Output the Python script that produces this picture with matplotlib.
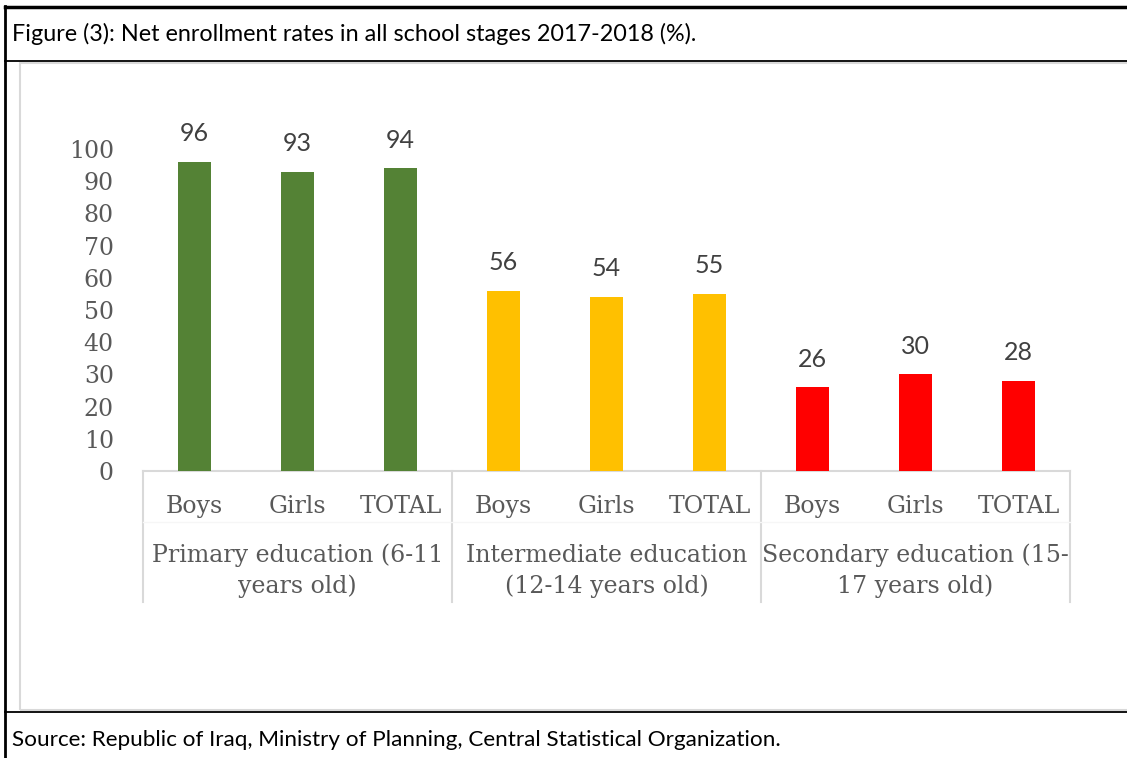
import matplotlib
matplotlib.use("Agg")
import matplotlib.pyplot as plt
from matplotlib.lines import Line2D
from matplotlib.patches import Rectangle

# data
categories = ["Boys", "Girls", "TOTAL"] * 3
groups = ["Primary education (6-11\nyears old)",
          "Intermediate education\n(12-14 years old)",
          "Secondary education (15-\n17 years old)"]
values = [96, 93, 94, 56, 54, 55, 26, 30, 28]
group_colors = ["#548235", "#FFC000", "#FF0000"]
title = "Figure (3): Net enrollment rates in all school stages 2017-2018 (%)."
source = "Source: Republic of Iraq, Ministry of Planning, Central Statistical Organization."

W, H = 1127, 758
fig = plt.figure(figsize=(W / 100, H / 100), dpi=100, facecolor="white")

def fx(px):
    return px / W

def fy(py):
    return 1 - py / H

# table frame around the figure
fig.add_artist(Line2D([fx(5), 1], [fy(7), fy(7)], color="black", lw=2.5))
fig.add_artist(Line2D([fx(5), fx(5)], [fy(6), 0], color="black", lw=2))
fig.add_artist(Line2D([fx(5), 1], [fy(61), fy(61)], color="black", lw=1.3))
fig.add_artist(Line2D([fx(5), 1], [fy(712), fy(712)], color="black", lw=1.3))
fig.add_artist(Rectangle((fx(20), fy(710)), 1, fy(63) - fy(710), fill=False,
                         edgecolor="#D9D9D9", lw=1.5))

fig.text(fx(12), fy(34), title, fontsize=16.8, family="Lato", va="center", color="black")
fig.text(fx(12), fy(740), source, fontsize=16.2, family="Lato", va="center", color="black")

# chart area
ax_left, ax_right, ax_top, ax_bottom = 143, 1070, 149, 471
ax = fig.add_axes([fx(ax_left), fy(ax_bottom), fx(ax_right - ax_left), fy(ax_top) - fy(ax_bottom)])
ax.set_facecolor("none")

x = list(range(len(values)))
colors = [c for c in group_colors for _ in range(3)]
bars = ax.bar(x, values, width=0.32, color=colors, zorder=3)
for b, v in zip(bars, values):
    ax.annotate(str(v), (b.get_x() + b.get_width() / 2, v), xytext=(0, 12),
                textcoords="offset points", ha="center", va="bottom",
                fontsize=18, family="Lato", color="#404040")

ax.set_xlim(-0.5, len(values) - 0.5)
ax.set_ylim(0, 100)
ax.set_yticks(range(0, 101, 10))
ax.tick_params(axis="y", length=0, pad=21, labelsize=17, labelcolor="#595959")
for t in ax.get_yticklabels():
    t.set_family("DejaVu Serif")

ax.set_xticks(x)
ax.set_xticklabels(categories, family="DejaVu Serif", fontsize=17, color="#595959")
ax.tick_params(axis="x", length=0, pad=17)

for s in ["top", "right", "left"]:
    ax.spines[s].set_visible(False)
ax.spines["bottom"].set_color("#D9D9D9")
ax.spines["bottom"].set_linewidth(1.5)

# group separators and labels below the axis
sep_depth = (602 - ax_bottom) / (ax_bottom - ax_top)
trans = ax.get_xaxis_transform()
for sx in [-0.5, 2.5, 5.5, 8.5]:
    ax.plot([sx, sx], [0, -sep_depth], transform=trans, color="#D9D9D9",
            lw=1.5, clip_on=False)
row_y = -(522 - ax_bottom) / (ax_bottom - ax_top)
ax.plot([-0.5, 8.5], [row_y, row_y], transform=trans, color="#F6F6F6", lw=1, clip_on=False)

for i, g in enumerate(groups):
    ax.text(3 * i + 1, -(571 - ax_bottom) / (ax_bottom - ax_top), g, transform=trans,
            ha="center", va="center", family="DejaVu Serif", fontsize=17,
            color="#595959", linespacing=1.4)

fig.savefig("out.png", dpi=100, facecolor="white")
